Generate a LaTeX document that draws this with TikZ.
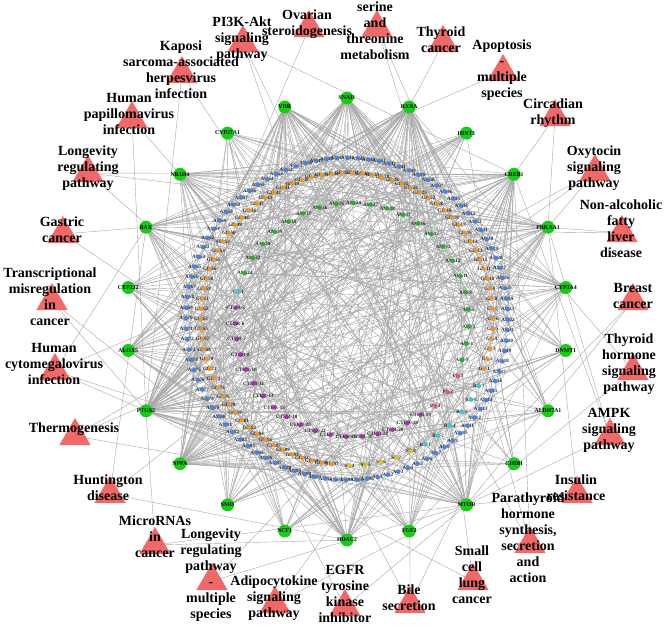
\documentclass[tikz,border=0pt]{standalone}
\usepackage{fontspec}
\setmainfont{Liberation Serif}
\usetikzlibrary{shapes.geometric}
\pgfdeclarelayer{bg}
\pgfsetlayers{bg,main}
\definecolor{tri}{RGB}{240,104,104}
\definecolor{tg}{RGB}{22,205,22}
\definecolor{cas}{RGB}{70,130,225}
\definecolor{cgf}{RGB}{240,150,40}
\definecolor{cam}{RGB}{40,175,40}
\definecolor{cct}{RGB}{165,45,175}
\definecolor{crc}{RGB}{60,200,215}
\definecolor{css}{RGB}{215,195,30}
\definecolor{cpp}{RGB}{220,95,110}
\definecolor{edgec}{RGB}{168,168,168}
\pgfmathdeclarerandomlist{tgl}{{rxra}{rxra}{rxra}{snai}{snai}{vdr}{vdr}{nr1h4}{nr1h4}{bax}{bax}{alox5}{alox5}{ptgs2}{ptgs2}{ptgs2}{nppa}{nppa}{nppa}{hdac2}{hdac2}{mtor}{mtor}{chdh}{aldh}{dnmt1}{cyp3a4}{cyp3a4}{prkaa1}{prkaa1}{creb1}{creb1}{cyp27}{cyp2j}{hint1}{smo}{ncf1}{fgf2}}
\begin{document}
\begin{tikzpicture}[x=1pt,y=-1pt,
  pw/.style={regular polygon,regular polygon sides=3,fill=tri,minimum size=36pt,inner sep=0pt},
  pwtext/.style={font=\bfseries\fontsize{14}{16}\selectfont,align=center,text=black,inner sep=0pt},
  targ/.style={circle,fill=tg,minimum size=13pt,inner sep=0pt},
  tlab/.style={font=\bfseries\fontsize{5.8}{6}\selectfont,inner sep=0pt},
  cmp/.style={circle,fill=#1,minimum size=4.6pt,inner sep=0pt},
  clab/.style={font=\bfseries\fontsize{5}{5}\selectfont,inner sep=0pt,text=black!85},
  ln/.style={draw=edgec,line width=0.4pt}
]
\useasboundingbox (0,0) rectangle (666,627);

% ---------- targets ----------
\foreach \nm/\lb [count=\i from 0] in {snai/SNAI1, vdr/VDR, cyp27/CYP27A1, nr1h4/NR1H4, bax/BAX, cyp2j/CYP2J2, alox5/ALOX5, ptgs2/PTGS2, nppa/NPPA, smo/SMO, ncf1/NCF1, hdac2/HDAC2, fgf2/FGF2, mtor/MTOR, chdh/CHDH, aldh/ALDH7A1, dnmt1/DNMT1, cyp3a4/CYP3A4, prkaa1/PRKAA1, creb1/CREB1, hint1/HINT1, rxra/RXRA}{
  \pgfmathsetmacro\a{90+\i*16.3636}
  \node[targ,label={[tlab]center:\lb}] (\nm) at ({347+221*cos(\a)},{319-221*sin(\a)}) {};
}

% ---------- compounds: AS ring ----------
\foreach \k in {1,...,96}{
  \pgfmathsetmacro\a{-79+(\k-1)*3.75}
  \node[clab] at ({347+161*cos(\a)},{319-161*sin(\a)}) {AS-\k};
  \node[cmp=cas] (as\k) at ({347+161*cos(\a)},{319-161*sin(\a)}) {};
}
% GF ring
\foreach \k in {1,...,72}{
  \pgfmathsetmacro\a{-20+(\k-1)*4}
  \pgfmathtruncatemacro\n{\k+int(\k*\k/200)}
  \node[clab] at ({347+146*cos(\a)},{319-146*sin(\a)}) {GF-\n};
  \node[cmp=cgf] (gf\k) at ({347+146*cos(\a)},{319-146*sin(\a)}) {};
}
% SS
\foreach \k in {4,...,8}{
  \pgfmathsetmacro\a{271+(\k-4)*6.2}
  \node[clab] at ({347+147*cos(\a)},{319-147*sin(\a)}) {SS-\k};
  \node[cmp=css] (ss\k) at ({347+147*cos(\a)},{319-147*sin(\a)}) {};
}
% RC
\foreach \k/\a in {1/302,2/308,4/314,5/321,6/327,7/333}{
  \node[clab] at ({347+148*cos(\a)},{319-148*sin(\a)}) {RC-\k};
  \node[cmp=crc] (rc\k) at ({347+148*cos(\a)},{319-148*sin(\a)}) {};
}
% AM inner ring
\foreach \n [count=\i from 0] in {3,4,5,6,8,11,12,13,15,16,17,28,27,24,26,36,37,38,39,30,32,34}{
  \pgfmathsetmacro\a{340+\i*8.4}
  \node[clab] at ({352+117*cos(\a)},{320-117*sin(\a)}) {AM-\n};
  \node[cmp=cam] (am\i) at ({352+117*cos(\a)},{320-117*sin(\a)}) {};
}
% CT-1
\node[clab] at ({352+117*cos(166)},{320-117*sin(166)}) {CT-1};
\node[cmp=crc] (ctone) at ({352+117*cos(166)},{320-117*sin(166)}) {};
% CTHR
\foreach \n [count=\i from 0] in {5,6,7,8,10,11,14,15,18,20,22,25,26,30,28,29,38,39}{
  \pgfmathsetmacro\a{174+\i*7.76}
  \node[clab] at ({352+117*cos(\a)},{320-117*sin(\a)}) {CTHR-\n};
  \node[cmp=cct] (cthr\i) at ({352+117*cos(\a)},{320-117*sin(\a)}) {};
}
% PP
\foreach \k/\a in {1/314,2/323,3/332}{
  \node[clab] at ({352+120*cos(\a)},{320-120*sin(\a)}) {PP-\k};
  \node[cmp=cpp] (pp\k) at ({352+120*cos(\a)},{320-120*sin(\a)}) {};
}

% ---------- pathways ----------
\node[pw] (p1) at (243,43) {};   \node[pwtext] at (242,39) {PI3K-Akt\\signaling\\pathway};
\node[pw] (p2) at (309,28) {};   \node[pwtext] at (307,24) {Ovarian\\steroidogenesis};
\node[pw] (p3) at (377,28) {};   \node[pwtext] at (375,31) {serine\\and\\threonine\\metabolism};
\node[pw] (p4) at (443,43) {};   \node[pwtext] at (441,40) {Thyroid\\cancer};
\node[pw] (p5) at (503,72) {};   \node[pwtext] at (502,70) {Apoptosis\\-\\multiple\\species};
\node[pw] (p6) at (555,117) {};  \node[pwtext] at (553,113) {Circadian\\rhythm};
\node[pw] (p7) at (595,172) {};  \node[pwtext] at (594,168) {Oxytocin\\signaling\\pathway};
\node[pw] (p8) at (622,233) {};  \node[pwtext] at (621,229) {Non-alcoholic\\fatty\\liver\\disease};
\node[pw] (p9) at (633,301) {};  \node[pwtext] at (633,296) {Breast\\cancer};
\node[pw] (p10) at (633,371) {}; \node[pwtext] at (629,364) {Thyroid\\hormone\\signaling\\pathway};
\node[pw] (p11) at (610,436) {}; \node[pwtext] at (609,430) {AMPK\\signaling\\pathway};
\node[pw] (p12) at (577,494) {}; \node[pwtext] at (576,488) {Insulin\\resistance};
\node[pw] (p13) at (530,544) {}; \node[pwtext] at (528,538) {Parathyroid\\hormone\\synthesis,\\secretion\\and\\action};
\node[pw] (p14) at (473,581) {}; \node[pwtext] at (472,575) {Small\\cell\\lung\\cancer};
\node[pw] (p15) at (410,604) {}; \node[pwtext] at (409,598) {Bile\\secretion};
\node[pw] (p16) at (345,607) {}; \node[pwtext] at (345,594) {EGFR\\tyrosine\\kinase\\inhibitor};
\node[pw] (p17) at (275,604) {}; \node[pwtext] at (274,598) {Adipocytokine\\signaling\\pathway};
\node[pw] (p18) at (212,581) {}; \node[pwtext] at (211,575) {Longevity\\regulating\\pathway\\-\\multiple\\species};
\node[pw] (p19) at (155,545) {}; \node[pwtext] at (155,537) {MicroRNAs\\in\\cancer};
\node[pw] (p20) at (110,494) {}; \node[pwtext] at (108,488) {Huntington\\disease};
\node[pw] (p21) at (75,436) {};  \node[pwtext] at (74,429) {Thermogenesis};
\node[pw] (p22) at (55,371) {};  \node[pwtext] at (54,364) {Human\\cytomegalovirus\\infection};
\node[pw] (p23) at (52,301) {};  \node[pwtext] at (50,297) {Transcriptional\\misregulation\\in\\cancer};
\node[pw] (p24) at (63,234) {};  \node[pwtext] at (62,230) {Gastric\\cancer};
\node[pw] (p25) at (88,173) {};  \node[pwtext] at (88,168) {Longevity\\regulating\\pathway};
\node[pw] (p26) at (132,119) {}; \node[pwtext] at (129,114) {Human\\papillomavirus\\infection};
\node[pw] (p27) at (182,74) {};  \node[pwtext] at (181,70) {Kaposi\\sarcoma-associated\\herpesvirus\\infection};

% ---------- edges (background) ----------
\begin{pgfonlayer}{bg}
\fill[white] (0,0) rectangle (666,627);
\pgfmathsetseed{11}
\foreach \k in {1,...,96}{\foreach \j in {1,2,3}{\pgfmathrandomitem{\t}{tgl}\draw[ln] (as\k.center) -- (\t.center);}}
\foreach \k in {1,...,72}{\foreach \j in {1,2,3}{\pgfmathrandomitem{\t}{tgl}\draw[ln] (gf\k.center) -- (\t.center);}}
\foreach \k in {4,...,8}{\foreach \j in {1,2}{\pgfmathrandomitem{\t}{tgl}\draw[ln] (ss\k.center) -- (\t.center);}}
\foreach \k in {1,2,4,5,6,7}{\foreach \j in {1,2}{\pgfmathrandomitem{\t}{tgl}\draw[ln] (rc\k.center) -- (\t.center);}}
\foreach \k in {0,...,21}{\foreach \j in {1,2,3}{\pgfmathrandomitem{\t}{tgl}\draw[ln] (am\k.center) -- (\t.center);}}
\foreach \k in {0,...,17}{\foreach \j in {1,2,3}{\pgfmathrandomitem{\t}{tgl}\draw[ln] (cthr\k.center) -- (\t.center);}}
\foreach \k in {1,2,3}{\foreach \j in {1,2}{\pgfmathrandomitem{\t}{tgl}\draw[ln] (pp\k.center) -- (\t.center);}}
\foreach \j in {1,2}{\pgfmathrandomitem{\t}{tgl}\draw[ln] (ctone.center) -- (\t.center);}
\foreach \p/\q in {p1/creb1,p1/mtor,p1/fgf2,p2/ptgs2,p3/chdh,p3/aldh,p4/rxra,p5/bax,p6/creb1,p6/prkaa1,
  p7/prkaa1,p7/ptgs2,p7/nppa,p8/prkaa1,p8/bax,p9/fgf2,p9/mtor,p10/mtor,p10/rxra,p11/prkaa1,p11/mtor,p11/creb1,
  p12/prkaa1,p12/mtor,p13/creb1,p13/vdr,p13/rxra,p14/ptgs2,p14/rxra,p15/nr1h4,p15/cyp3a4,p15/rxra,
  p16/mtor,p16/bax,p17/prkaa1,p17/mtor,p18/prkaa1,p18/mtor,p19/ptgs2,p19/mtor,p19/hdac2,
  p20/creb1,p20/bax,p20/hdac2,p21/prkaa1,p21/mtor,p21/creb1,p22/ptgs2,p22/mtor,p22/creb1,p22/bax,
  p23/hdac2,p23/ptgs2,p24/bax,p24/mtor,p25/prkaa1,p25/mtor,p25/creb1,p26/ptgs2,p26/mtor,p27/ptgs2,p27/mtor}
  {\draw[ln] (\p.center) -- (\q.center);}
\end{pgfonlayer}
\end{tikzpicture}
\end{document}
